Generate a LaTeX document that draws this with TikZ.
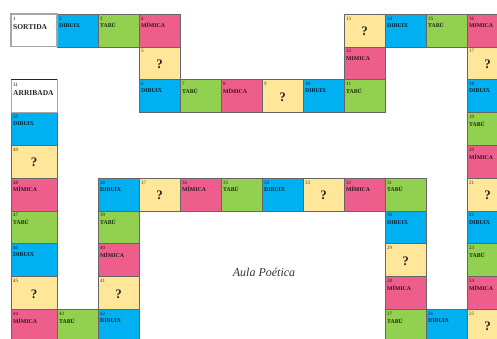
\documentclass[tikz,border=0pt]{standalone}
\usepackage{fontspec}
\setmainfont{Liberation Serif}
\definecolor{dibc}{HTML}{00B0F0}
\definecolor{tabc}{HTML}{92D050}
\definecolor{mimc}{HTML}{EE5E8C}
\definecolor{quec}{HTML}{FFE699}
\tikzset{
  cellbox/.style={draw=black!60, line width=0.6pt, minimum width=41pt, minimum height=32.8pt, inner sep=0pt, outer sep=0pt, anchor=north west},
  t0/.style={fill=mimc}, t1/.style={fill=quec}, t2/.style={fill=dibc}, t3/.style={fill=tabc},
  k0/.style={text=mimc!20!black}, k1/.style={text=quec!25!black}, k2/.style={text=dibc!20!black}, k3/.style={text=tabc!20!black},
  numtxt/.style={font=\fontsize{5}{5}\selectfont, inner sep=0pt, anchor=west},
  labtxt/.style={font=\fontsize{5.8}{6}\selectfont\bfseries, inner sep=0pt, anchor=west},
  bigtxt/.style={font=\fontsize{7.5}{8}\selectfont\bfseries, inner sep=0pt, anchor=west, text=black!85},
  qtxt/.style={font=\fontsize{13}{13}\selectfont\bfseries, inner sep=0pt, text=black!85},
  titletxt/.style={font=\fontsize{12}{12}\selectfont\itshape, inner sep=0pt, text=black!80},
}
\begin{document}
\begin{tikzpicture}[x=1pt,y=1pt]
\useasboundingbox (0,0) rectangle (497,-338);
\fill[white] (0,0) rectangle (497,-338);
\clip (0,0) rectangle (497,-338);
\foreach \n/\c/\r in {2/1/0,3/2/0,4/3/0,5/3/1,6/3/2,7/4/2,8/5/2,9/6/2,10/7/2,11/8/2,12/8/1,13/8/0,
  14/9/0,15/10/0,16/11/0,17/11/1,18/11/2,19/11/3,20/11/4,21/11/5,22/11/6,23/11/7,24/11/8,25/11/9,
  26/10/9,27/9/9,28/9/8,29/9/7,30/9/6,31/9/5,32/8/5,33/7/5,34/6/5,35/5/5,36/4/5,37/3/5,38/2/5,
  39/2/6,40/2/7,41/2/8,42/2/9,43/1/9,44/0/9,45/0/8,46/0/7,47/0/6,48/0/5,49/0/4,50/0/3}{
  \pgfmathsetmacro\xx{\c==0 ? 11 : 57+41*(\c-1)}
  \pgfmathsetmacro\ww{\c==0 ? 46 : 41}
  \pgfmathsetmacro\yy{-14-32.8*\r}
  \pgfmathtruncatemacro\m{mod(\n,4)}
  \node[cellbox, t\m, minimum width=\ww pt] (n\n) at (\xx,\yy) {};
  \node[numtxt, k\m] (num\n) at ([xshift=2pt,yshift=-4.5pt]n\n.north west) {\n};
  \ifnum\m=1
    \node[qtxt] (lab\n) at ([yshift=-1pt]n\n.center) {?};
  \else
    \node[labtxt, k\m] (lab\n) at ([xshift=2pt,yshift=-11.5pt]n\n.north west)
      {\ifcase\m \ifnum\n=12 MIMICA\else\ifnum\n=16 MIMICA\else MÍMICA\fi\fi\or\or DIBUIX\or TABÚ\fi};
  \fi
}
% start
\node[cellbox, minimum width=46pt, fill=white, draw=black!35, line width=1.2pt] (start) at (11,-14) {};
\node[numtxt, text=black] (num1) at ([xshift=2pt,yshift=-4.5pt]start.north west) {1};
\node[bigtxt] (labstart) at ([xshift=2pt,yshift=-13pt]start.north west) {SORTIDA};
% finish
\node[cellbox, minimum width=46pt, fill=white, draw=black!35, line width=0.8pt] (finish) at (11,-79.6) {};
\draw[line width=1.5pt, black!85] (finish.north west) -- (finish.north east);
\node[numtxt, text=black] (numend) at ([xshift=2pt,yshift=-5pt]finish.north west) {31};
\node[bigtxt] (labend) at ([xshift=2pt,yshift=-13.5pt]finish.north west) {ARRIBADA};
% title
\node[titletxt] (title) at (264,-272) {Aula Poética};
\end{tikzpicture}
\end{document}
